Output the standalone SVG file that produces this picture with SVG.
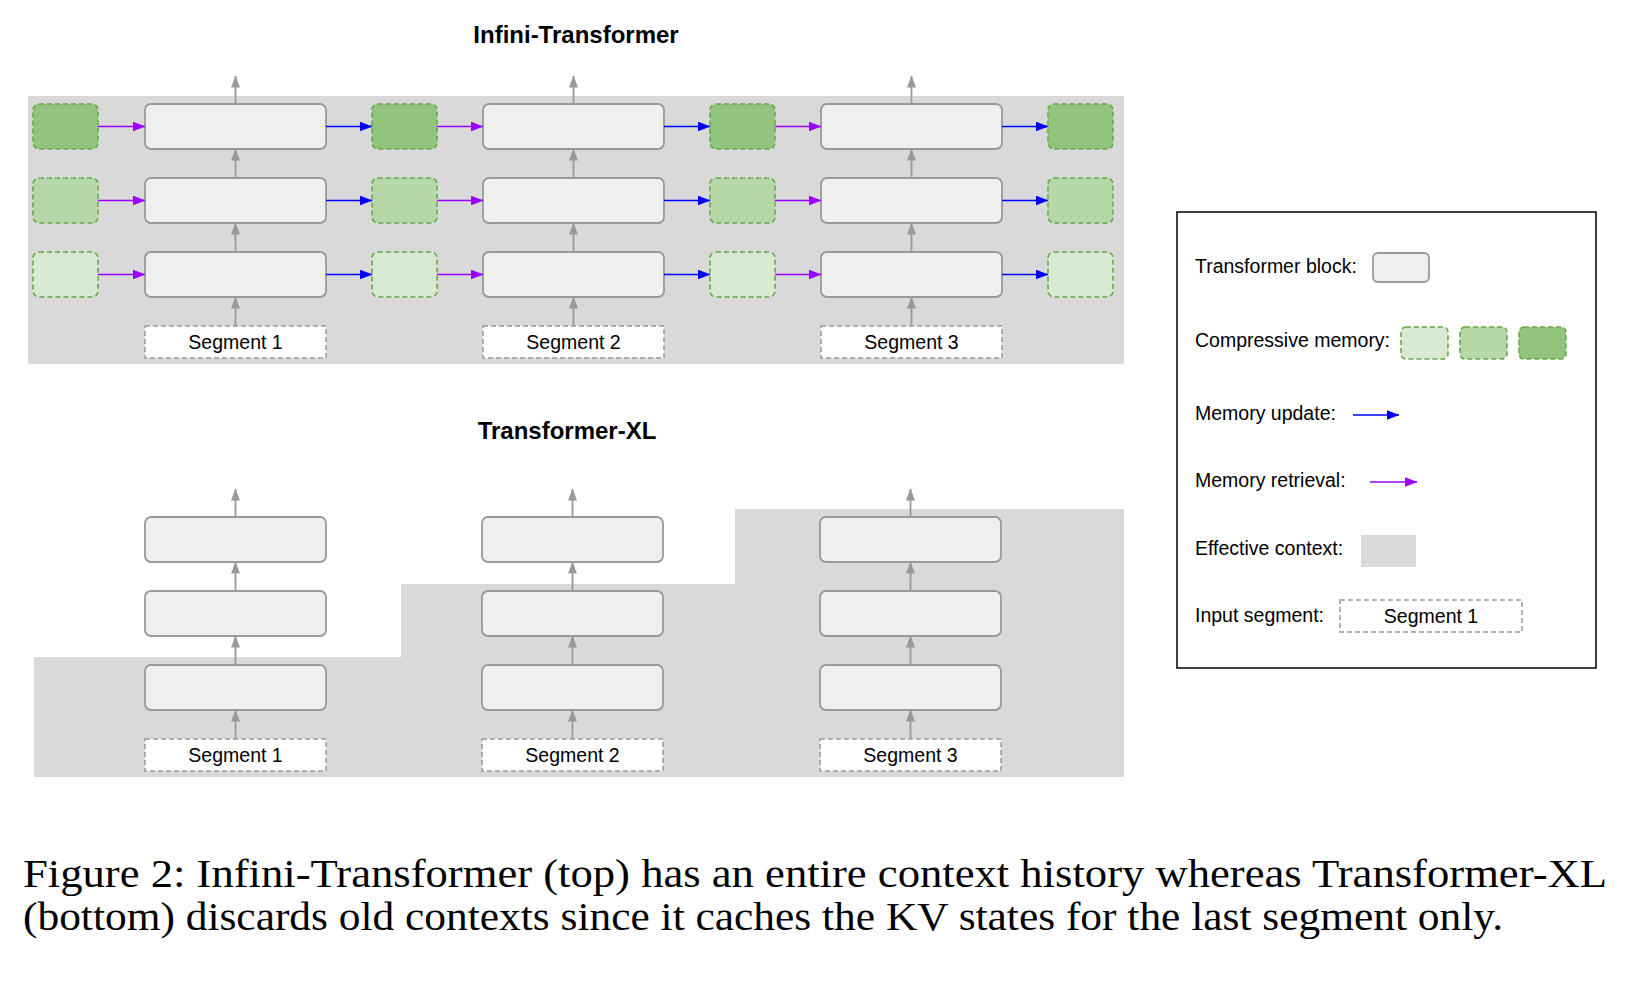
<svg xmlns="http://www.w3.org/2000/svg" width="1645" height="981" viewBox="0 0 1645 981">
<style>
  .bg { fill: #d9d9d9; }
  .blk { fill: #efefef; stroke: #999999; stroke-width: 1.8; }
  .seg { fill: #ffffff; stroke: #999999; stroke-width: 1.5; stroke-dasharray: 5 3; }
  .mem { stroke: #6aa84f; stroke-width: 1.6; stroke-dasharray: 5 3; }
  .m1 { fill: #93c47d; }
  .m2 { fill: #b6d7a8; }
  .m3 { fill: #d9ead3; }
  .up { stroke: #999999; stroke-width: 1.8; fill: none; marker-end: url(#ag); }
  .upd { stroke: #0000ff; stroke-width: 1.6; fill: none; marker-end: url(#ab); }
  .ret { stroke: #9900ff; stroke-width: 1.6; fill: none; marker-end: url(#ap); }
  .t { font-family: "Liberation Sans", Arial, sans-serif; font-size: 19.5px; fill: #000; }
  .c { text-anchor: middle; }
  .title { font-family: "Liberation Sans", Arial, sans-serif; font-size: 24px; font-weight: bold; text-anchor: middle; fill: #000; }
  .cap { font-family: "Liberation Serif", "Times New Roman", serif; font-size: 41px; fill: #000; }
</style>
<defs>
  <marker id="ag" markerUnits="userSpaceOnUse" markerWidth="12" markerHeight="9" refX="11.5" refY="4.5" orient="auto">
    <path d="M0,0 L12,4.5 L0,9 z" fill="#999999"/>
  </marker>
  <marker id="ab" markerUnits="userSpaceOnUse" markerWidth="13" markerHeight="10" refX="12.5" refY="5" orient="auto">
    <path d="M0,0 L13,5 L0,10 z" fill="#0000ff"/>
  </marker>
  <marker id="ap" markerUnits="userSpaceOnUse" markerWidth="13" markerHeight="10" refX="12.5" refY="5" orient="auto">
    <path d="M0,0 L13,5 L0,10 z" fill="#9900ff"/>
  </marker>
</defs>
<rect width="1645" height="981" fill="#ffffff"/>

<!-- Top section: Infini-Transformer -->
<g id="infini-context"><rect class="bg" x="28" y="96" width="1096" height="268"/></g>
<text class="title" x="576" y="43">Infini-Transformer</text>

<g id="infini-memory">
  <rect id="mem-0-top" class="mem m1" x="33" y="104" width="65" height="45" rx="6"/>
  <rect id="mem-0-mid" class="mem m2" x="33" y="178" width="65" height="45" rx="6"/>
  <rect id="mem-0-bot" class="mem m3" x="33" y="252" width="65" height="45" rx="6"/>
  <rect id="mem-1-top" class="mem m1" x="372" y="104" width="65" height="45" rx="6"/>
  <rect id="mem-1-mid" class="mem m2" x="372" y="178" width="65" height="45" rx="6"/>
  <rect id="mem-1-bot" class="mem m3" x="372" y="252" width="65" height="45" rx="6"/>
  <rect id="mem-2-top" class="mem m1" x="710" y="104" width="65" height="45" rx="6"/>
  <rect id="mem-2-mid" class="mem m2" x="710" y="178" width="65" height="45" rx="6"/>
  <rect id="mem-2-bot" class="mem m3" x="710" y="252" width="65" height="45" rx="6"/>
  <rect id="mem-3-top" class="mem m1" x="1048" y="104" width="65" height="45" rx="6"/>
  <rect id="mem-3-mid" class="mem m2" x="1048" y="178" width="65" height="45" rx="6"/>
  <rect id="mem-3-bot" class="mem m3" x="1048" y="252" width="65" height="45" rx="6"/>
</g>

<g id="infini-seg1">
  <rect class="blk" x="145" y="104" width="181" height="45" rx="6"/>
  <rect class="blk" x="145" y="178" width="181" height="45" rx="6"/>
  <rect class="blk" x="145" y="252" width="181" height="45" rx="6"/>
  <rect class="seg" x="145" y="326" width="181" height="32"/>
  <text class="t c" x="235.5" y="349">Segment 1</text>
</g>
<g id="infini-seg2">
  <rect class="blk" x="483" y="104" width="181" height="45" rx="6"/>
  <rect class="blk" x="483" y="178" width="181" height="45" rx="6"/>
  <rect class="blk" x="483" y="252" width="181" height="45" rx="6"/>
  <rect class="seg" x="483" y="326" width="181" height="32"/>
  <text class="t c" x="573.5" y="349">Segment 2</text>
</g>
<g id="infini-seg3">
  <rect class="blk" x="821" y="104" width="181" height="45" rx="6"/>
  <rect class="blk" x="821" y="178" width="181" height="45" rx="6"/>
  <rect class="blk" x="821" y="252" width="181" height="45" rx="6"/>
  <rect class="seg" x="821" y="326" width="181" height="32"/>
  <text class="t c" x="911.5" y="349">Segment 3</text>
</g>

<!-- Bottom section: Transformer-XL -->
<g id="xl-context"><path class="bg" d="M34,657 H401 V584 H735 V509 H1124 V777 H34 Z"/></g>
<text class="title" x="567" y="439">Transformer-XL</text>

<g id="xl-seg1">
  <rect class="blk" x="145" y="517" width="181" height="45" rx="6"/>
  <rect class="blk" x="145" y="591" width="181" height="45" rx="6"/>
  <rect class="blk" x="145" y="665" width="181" height="45" rx="6"/>
  <rect class="seg" x="145" y="739" width="181" height="32"/>
  <text class="t c" x="235.5" y="762">Segment 1</text>
</g>
<g id="xl-seg2">
  <rect class="blk" x="482" y="517" width="181" height="45" rx="6"/>
  <rect class="blk" x="482" y="591" width="181" height="45" rx="6"/>
  <rect class="blk" x="482" y="665" width="181" height="45" rx="6"/>
  <rect class="seg" x="482" y="739" width="181" height="32"/>
  <text class="t c" x="572.5" y="762">Segment 2</text>
</g>
<g id="xl-seg3">
  <rect class="blk" x="820" y="517" width="181" height="45" rx="6"/>
  <rect class="blk" x="820" y="591" width="181" height="45" rx="6"/>
  <rect class="blk" x="820" y="665" width="181" height="45" rx="6"/>
  <rect class="seg" x="820" y="739" width="181" height="32"/>
  <text class="t c" x="910.5" y="762">Segment 3</text>
</g>

<!-- Connectors -->
<g id="connectors">
  <!-- Infini vertical -->
  <line class="up" x1="235.5" y1="104" x2="235.5" y2="76"/>
  <line class="up" x1="235.5" y1="178" x2="235.5" y2="149"/>
  <line class="up" x1="235.5" y1="252" x2="235.5" y2="223"/>
  <line class="up" x1="235.5" y1="326" x2="235.5" y2="297"/>
  <line class="up" x1="573.5" y1="104" x2="573.5" y2="76"/>
  <line class="up" x1="573.5" y1="178" x2="573.5" y2="149"/>
  <line class="up" x1="573.5" y1="252" x2="573.5" y2="223"/>
  <line class="up" x1="573.5" y1="326" x2="573.5" y2="297"/>
  <line class="up" x1="911.5" y1="104" x2="911.5" y2="76"/>
  <line class="up" x1="911.5" y1="178" x2="911.5" y2="149"/>
  <line class="up" x1="911.5" y1="252" x2="911.5" y2="223"/>
  <line class="up" x1="911.5" y1="326" x2="911.5" y2="297"/>
  <!-- retrieval -->
  <line class="ret" x1="98" y1="126.5" x2="145" y2="126.5"/>
  <line class="ret" x1="98" y1="200.5" x2="145" y2="200.5"/>
  <line class="ret" x1="98" y1="274.5" x2="145" y2="274.5"/>
  <line class="ret" x1="437" y1="126.5" x2="483" y2="126.5"/>
  <line class="ret" x1="437" y1="200.5" x2="483" y2="200.5"/>
  <line class="ret" x1="437" y1="274.5" x2="483" y2="274.5"/>
  <line class="ret" x1="775" y1="126.5" x2="821" y2="126.5"/>
  <line class="ret" x1="775" y1="200.5" x2="821" y2="200.5"/>
  <line class="ret" x1="775" y1="274.5" x2="821" y2="274.5"/>
  <!-- update -->
  <line class="upd" x1="326" y1="126.5" x2="372" y2="126.5"/>
  <line class="upd" x1="326" y1="200.5" x2="372" y2="200.5"/>
  <line class="upd" x1="326" y1="274.5" x2="372" y2="274.5"/>
  <line class="upd" x1="664" y1="126.5" x2="710" y2="126.5"/>
  <line class="upd" x1="664" y1="200.5" x2="710" y2="200.5"/>
  <line class="upd" x1="664" y1="274.5" x2="710" y2="274.5"/>
  <line class="upd" x1="1002" y1="126.5" x2="1048" y2="126.5"/>
  <line class="upd" x1="1002" y1="200.5" x2="1048" y2="200.5"/>
  <line class="upd" x1="1002" y1="274.5" x2="1048" y2="274.5"/>
  <!-- XL vertical -->
  <line class="up" x1="235.5" y1="517" x2="235.5" y2="489"/>
  <line class="up" x1="235.5" y1="591" x2="235.5" y2="562"/>
  <line class="up" x1="235.5" y1="665" x2="235.5" y2="636"/>
  <line class="up" x1="235.5" y1="739" x2="235.5" y2="710"/>
  <line class="up" x1="572.5" y1="517" x2="572.5" y2="489"/>
  <line class="up" x1="572.5" y1="591" x2="572.5" y2="562"/>
  <line class="up" x1="572.5" y1="665" x2="572.5" y2="636"/>
  <line class="up" x1="572.5" y1="739" x2="572.5" y2="710"/>
  <line class="up" x1="910.5" y1="517" x2="910.5" y2="489"/>
  <line class="up" x1="910.5" y1="591" x2="910.5" y2="562"/>
  <line class="up" x1="910.5" y1="665" x2="910.5" y2="636"/>
  <line class="up" x1="910.5" y1="739" x2="910.5" y2="710"/>
</g>

<!-- Legend -->
<g id="legend">
  <rect x="1177" y="212" width="419" height="456" fill="#ffffff" stroke="#000000" stroke-width="1.5"/>
  <text class="t" x="1195" y="273">Transformer block:</text>
  <rect class="blk" x="1373" y="253" width="56" height="29" rx="5"/>
  <text class="t" x="1195" y="347">Compressive memory:</text>
  <rect class="mem m3" x="1401" y="327" width="47" height="32" rx="5"/>
  <rect class="mem m2" x="1460" y="327" width="47" height="32" rx="5"/>
  <rect class="mem m1" x="1519" y="327" width="47" height="32" rx="5"/>
  <text class="t" x="1195" y="420">Memory update:</text>
  <line class="upd" x1="1353" y1="415" x2="1399" y2="415"/>
  <text class="t" x="1195" y="487">Memory retrieval:</text>
  <line class="ret" x1="1370" y1="482" x2="1417" y2="482"/>
  <text class="t" x="1195" y="555">Effective context:</text>
  <rect class="bg" x="1361" y="535" width="55" height="32"/>
  <text class="t" x="1195" y="622">Input segment:</text>
  <rect class="seg" x="1340" y="600" width="182" height="32"/>
  <text class="t c" x="1431" y="623">Segment 1</text>
</g>

<!-- Caption -->
<text class="cap" x="23" y="887" textLength="1584" lengthAdjust="spacingAndGlyphs">Figure 2: Infini-Transformer (top) has an entire context history whereas Transformer-XL</text>
<text class="cap" x="23" y="930" textLength="1480" lengthAdjust="spacingAndGlyphs">(bottom) discards old contexts since it caches the KV states for the last segment only.</text>
</svg>
